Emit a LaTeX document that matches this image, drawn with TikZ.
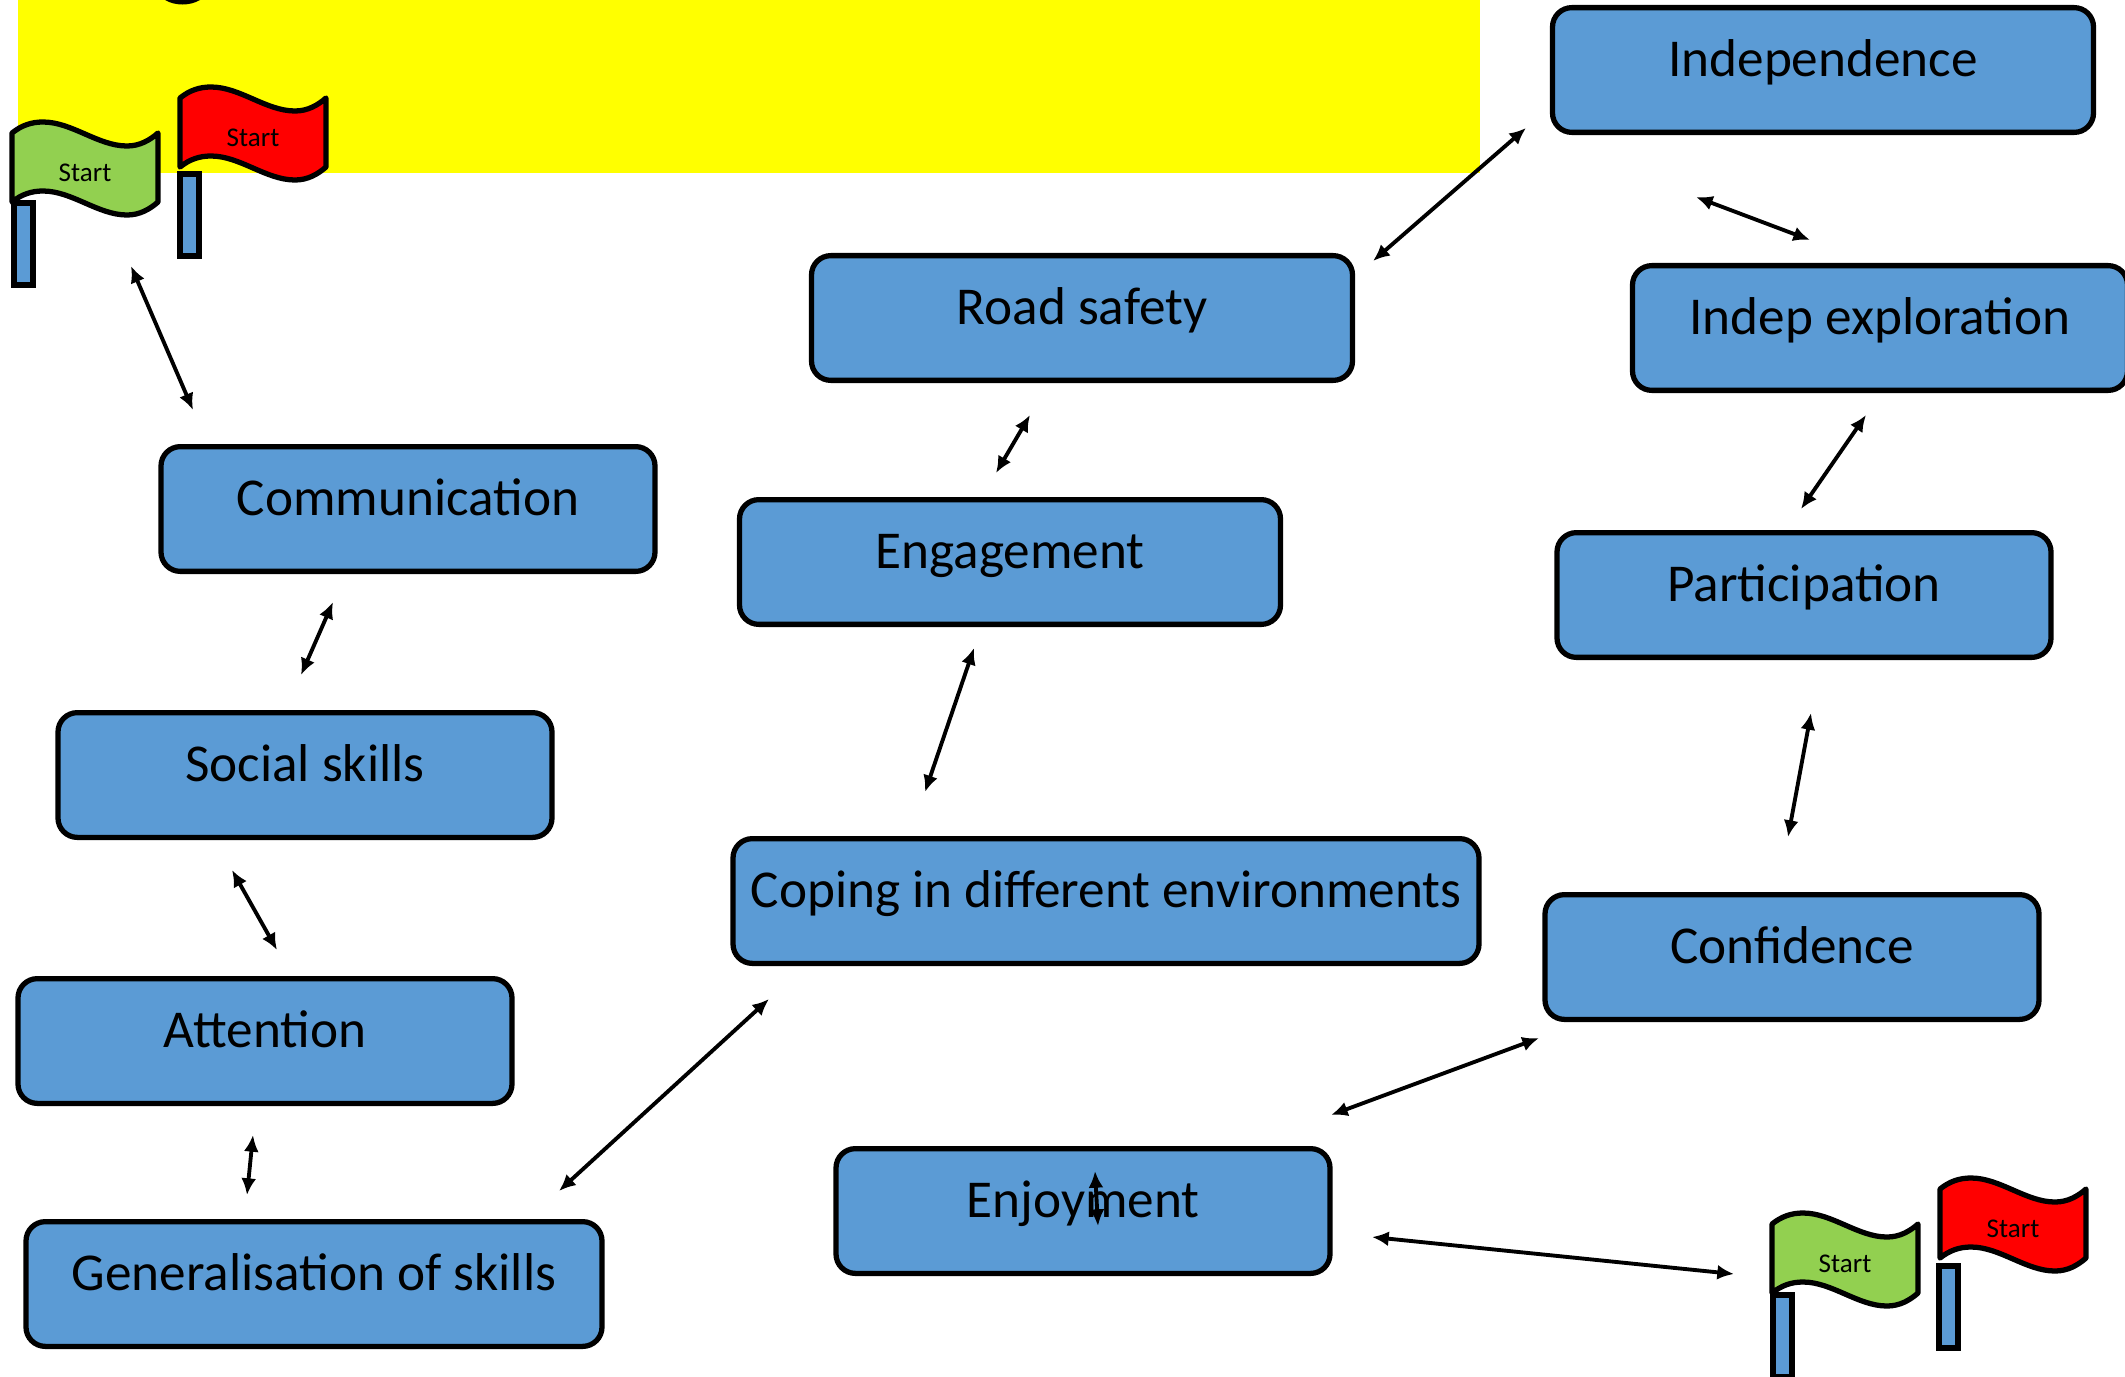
\documentclass[tikz,border=0pt]{standalone}
\usepackage{fontspec}
\setmainfont{Carlito}
\usetikzlibrary{arrows.meta}

\definecolor{boxBlue}{HTML}{5B9BD5}
\definecolor{flagGreen}{HTML}{92D050}
\definecolor{flagRed}{HTML}{FF0000}
\definecolor{bannerYellow}{HTML}{FFFF00}

\begin{document}
\begin{tikzpicture}
[x=0.02cm,y=-0.02cm,
  lineDecorate/.style={{Latex[length=9.5pt,width=8.5pt]}-{Latex[length=9.5pt,width=8.5pt]},line width=2.2pt},%
  nodeDecorate/.style={shape=rectangle,draw,line width=3pt,fill=boxBlue,rounded corners=11pt,
    inner sep=0pt,text height=39pt,text depth=32pt,font=\fontsize{30.3}{36}\selectfont},
  flagDecorate/.style={draw,line width=3pt,line join=round},
  flagText/.style={inner sep=0pt,font=\fontsize{15.4}{18}\selectfont}]
\useasboundingbox (0,0) rectangle (2125,1376);
%% background
\fill[bannerYellow] (18,0) rectangle (1480,173);
\fill (165,0) .. controls (175,6) and (190,6) .. (200,0) -- cycle;
%% flags
\foreach \flagname/\x/\y/\polex/\poley/\flagcolor in {
  flagA/0/0/0/0/flagGreen,
  flagB/168/-35/166/-29/flagRed,
  flagC/1760/1091/1759/1092/flagGreen,
  flagD/1928/1056/1925/1063/flagRed}
{
  \draw[flagDecorate,fill=boxBlue,line join=miter] (\polex+14,203) ++(0,\poley) rectangle ++(19,82);
  \draw[flagDecorate,fill=\flagcolor,shift={(\x,\y)}] (12,133)
    .. controls (22,125) and (32,122) .. (43,122)
    .. controls (72,122) and (98,146) .. (127,146)
    .. controls (140,146) and (150,140) .. (158,133)
    -- (158,202)
    .. controls (150,209) and (140,215) .. (127,215)
    .. controls (98,215) and (72,191) .. (43,191)
    .. controls (32,191) and (22,194) .. (12,202) -- cycle;
  \node (\flagname) at (\x+85,\y+173) [flagText] {Start};
}
%% nodes or vertices
\foreach \nodename/\x/\y/\w/\nodetext in {
  independence/1823/70/541/Independence,
  exploration/1880/328/495/Indep exploration,
  road/1082/318/541/Road safety,
  communication/408/509/494/Communication,
  engagement/1010/562/541/Engagement,
  participation/1804/595/494/Participation,
  social/305/775/494/Social skills,
  coping/1106/901/746/Coping in different environments,
  confidence/1792/957/494/Confidence,
  attention/265/1041/494/Attention,
  generalisation/314/1284/576/Generalisation of skills,
  enjoyment/1083/1211/494/Enjoyment}
{
  \node (\nodename) at (\x,\y) [nodeDecorate,minimum width=\w*0.02cm] {\nodetext};
}
%% free arrow ends
\foreach \coordname/\x/\y in {
  a1/131/266, a2/193/410, b1/333/602, b2/301/675,
  c1/232/870, c2/277/950, d1/253/1135, d2/247/1195,
  e1/559/1191, e2/769/999, f1/925/792, f2/974/648,
  g1/996/473, g2/1030/415, h1/1373/261, h2/1526/128,
  i1/1696/197, i2/1810/240, j1/1866/415, j2/1801/509,
  k1/1811/713, k2/1788/837, l1/1539/1038, l2/1331/1115,
  m1/1372/1237, m2/1734/1274, n1/1095/1171, n2/1098/1226}
{
  \coordinate (\coordname) at (\x,\y);
}
%% edges or lines
\path
\foreach \startnode/\endnode in {
  a1/a2, b1/b2, c1/c2, d1/d2, e1/e2, f1/f2, g1/g2,
  h1/h2, i1/i2, j1/j2, k1/k2, l1/l2, m1/m2, n1/n2}
{
  (\startnode) edge[lineDecorate] (\endnode)
};
\end{tikzpicture}
\end{document}
